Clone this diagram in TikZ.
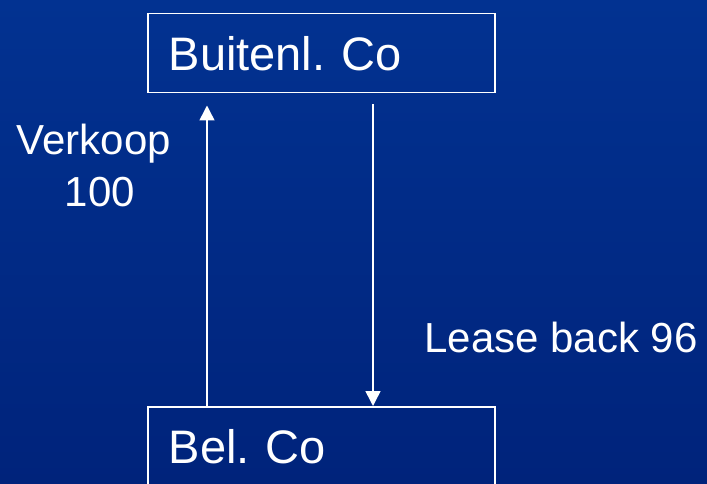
\documentclass[tikz,border=0pt]{standalone}
\usepackage{fontspec}
\setmainfont{Liberation Sans}
\usepackage{tikz}
\usetikzlibrary{arrows.meta, positioning, calc}
\definecolor{bgtop}{HTML}{023291}
\definecolor{bgbottom}{HTML}{00237B}
\frenchspacing

\begin{document}
\begin{tikzpicture}[
    x=1pt, y=-1pt,
    company/.style={draw=white, line width=1.5pt, text=white, inner xsep=21pt, inner ysep=0pt,
      text width=305pt, align=left, minimum height=79pt, anchor=north west,
      font=\fontsize{47}{56}\selectfont},
    flowlabel/.style={text=white, inner sep=0pt, align=center, font=\fontsize{42}{52}\selectfont},
    arr/.style={-{Triangle[length=15pt, width=15pt]}, draw=white, line width=1.5pt},
  ]
  % background
  \shade[top color=bgtop, bottom color=bgbottom] (0,0) rectangle (707,484);
  \useasboundingbox (0,0) rectangle (707,484);

  \node[company] (buiten) at (147,13) {Buitenl. Co};
  \node[company] (bel) at (147,406) {Bel. Co};

  \coordinate (upx) at (207,0);
  \coordinate (downx) at (373,0);

  \draw[arr] (upx |- bel.north) -- ($(upx |- buiten.south)+(0,12)$);
  \draw[arr] ($(downx |- buiten.south)+(0,11)$) -- (downx |- bel.north);

  \node[flowlabel, anchor=north] (verkoop) at (94,124) {Verkoop\\\hspace*{12pt}100};
  \node[flowlabel, anchor=base] (lease) at (561,352) {Lease back 96};
\end{tikzpicture}
\end{document}
